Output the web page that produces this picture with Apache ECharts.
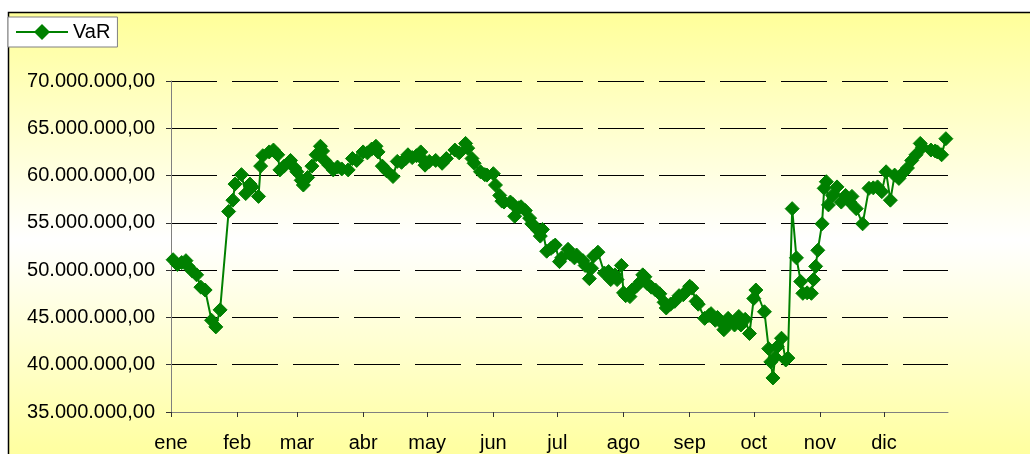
<!DOCTYPE html>
<html>
<head>
<meta charset="utf-8">
<script src="https://cdn.jsdelivr.net/npm/echarts@6/dist/echarts.min.js"></script>
<style>
  html, body { margin: 0; padding: 0; background: #ffffff; }
  #chart { width: 1030px; height: 454px; }
</style>
</head>
<body>
<div id="chart"></div>
<script>
// Day of year (0 = 1 January) of each observation
const dayOfYear = [
  1, 3, 5, 7, 8, 10, 12, 14, 16, 19, 21, 23, 27, 29, 30, 33, 35, 37, 38, 41,
  42, 43, 46, 48, 50, 51, 53, 56, 58, 59, 61, 62, 64, 66, 68, 70, 71, 72, 74, 76,
  78, 80, 83, 85, 87, 90, 92, 94, 96, 97, 99, 101, 104, 106, 108, 110, 111, 113, 115, 117,
  118, 119, 121, 124, 127, 129, 133, 135, 138, 139, 141, 142, 145, 147, 148, 151, 152, 154, 155, 156,
  159, 160, 161, 163, 164, 166, 168, 169, 171, 172, 173, 174, 176, 178, 179, 180, 182, 183, 186, 187,
  189, 190, 193, 194, 196, 197, 198, 200, 203, 205, 206, 208, 209, 211, 212, 213, 215, 216, 218, 220,
  221, 222, 223, 225, 227, 229, 231, 232, 234, 236, 238, 240, 242, 243, 244, 246, 247, 250, 252, 253,
  255, 256, 258, 259, 261, 262, 264, 266, 267, 269, 271, 273, 274, 278, 280, 281, 282, 283, 284, 286,
  288, 289, 291, 293, 295, 296, 298, 300, 301, 302, 303, 305, 306, 307, 308, 310, 312, 314, 316, 318,
  319, 321, 324, 327, 329, 331, 333, 335, 337, 339, 341, 343, 345, 347, 349, 351, 352, 356, 358, 359,
  361, 363
];
// VaR values, in millions
const varMillions = [
  51.1, 50.6, 50.8, 51.0, 50.4, 49.9, 49.5, 48.2, 47.9, 44.7, 44.0, 45.8, 56.2, 57.4, 59.1, 60.1, 58.1, 59.1, 58.8, 57.8,
  61.0, 62.1, 62.5, 62.7, 62.2, 60.6, 61.0, 61.6, 60.8, 60.4, 59.5, 59.0, 59.8, 61.0, 62.2, 63.1, 62.6, 61.6, 61.1, 60.6,
  60.9, 60.7, 60.6, 61.8, 61.6, 62.5, 62.4, 62.8, 63.1, 62.5, 61.0, 60.5, 59.9, 61.5, 61.4, 61.8, 62.2, 61.9, 62.1, 62.5,
  61.7, 61.1, 61.5, 61.6, 61.3, 61.8, 62.7, 62.4, 63.4, 62.9, 61.8, 61.3, 60.4, 60.1, 60.05, 60.2, 59.0, 57.9, 57.3, 57.2,
  57.2, 57.0, 55.7, 56.6, 56.7, 56.3, 55.5, 54.9, 54.5, 54.2, 53.6, 54.3, 52.0, 52.3, 52.5, 52.65, 50.9, 51.3, 52.2, 51.7,
  51.3, 51.6, 51.0, 50.5, 49.1, 50.2, 51.5, 51.9, 49.7, 49.85, 49.0, 49.5, 49.0, 50.5, 47.6, 47.3, 47.2, 47.9, 48.3, 48.8,
  49.5, 49.3, 48.6, 48.2, 47.9, 47.5, 46.6, 46.0, 46.4, 46.7, 47.3, 47.4, 47.9, 48.3, 48.1, 46.7, 46.4, 44.9, 45.2, 45.4,
  44.7, 45.0, 44.4, 43.7, 44.9, 44.5, 44.2, 45.1, 44.2, 44.8, 43.3, 47.0, 47.9, 45.6, 41.7, 40.3, 38.6, 40.8, 41.9, 42.8,
  40.5, 40.7, 56.5, 51.3, 48.8, 47.55, 47.6, 47.55, 49.0, 50.4, 52.1, 54.9, 58.65, 59.35, 56.9, 57.9, 58.8, 57.2, 57.9, 57.2,
  57.8, 56.5, 54.9, 58.65, 58.7, 58.8, 58.3, 60.4, 57.4, 60.05, 59.7, 60.3, 60.8, 61.6, 62.2, 63.4, 63.0, 62.7, 62.6, 62.5,
  62.2, 63.9
];
const monthLabels = ['ene', 'feb', 'mar', 'abr', 'may', 'jun', 'jul', 'ago', 'sep', 'oct', 'nov', 'dic'];
const monthStartDay = [0, 31, 59, 90, 120, 151, 181, 212, 243, 273, 304, 334];
const yTicks = [35000000, 40000000, 45000000, 50000000, 55000000, 60000000, 65000000, 70000000];
const seriesName = 'VaR';
const lastDay = 364;

const points = dayOfYear.map((d, i) => [d, varMillions[i] * 1e6]);

function fmtNum(v) {
  const s = Math.round(v).toString().replace(/\B(?=(\d{3})+(?!\d))/g, '.');
  return s + ',00';
}

const FONT = '"Liberation Sans", Arial, sans-serif';
const chart = echarts.init(document.getElementById('chart'), null, { renderer: 'canvas' });
chart.setOption({
  animation: false,
  backgroundColor: 'transparent',
  graphic: [{
    type: 'rect',
    z: -10,
    silent: true,
    shape: { x: 8.5, y: 12.5, width: 1200, height: 600 },
    style: {
      fill: new echarts.graphic.LinearGradient(0, 0, 0, 1, [
        { offset: 0, color: '#FFFF99' },
        { offset: 0.38, color: '#FFFFFF' },
        { offset: 0.76, color: '#FFFF99' },
        { offset: 1, color: '#FFFF99' }
      ]),
      stroke: '#000000',
      lineWidth: 1.5
    }
  }],
  legend: {
    left: 8,
    top: 17,
    padding: [5, 7, 5, 7],
    backgroundColor: '#ffffff',
    borderColor: '#808080',
    borderWidth: 1,
    borderRadius: 0,
    itemWidth: 52,
    itemHeight: 20,
    itemGap: 5,
    textStyle: { fontFamily: FONT, fontSize: 20, color: '#000' },
    data: [seriesName]
  },
  grid: { left: 171, top: 81, right: 82, bottom: 42, containLabel: false },
  xAxis: {
    type: 'value',
    min: 0,
    max: lastDay,
    axisLine: { show: true, onZero: false, lineStyle: { color: '#808080', width: 1 } },
    axisTick: { show: true, length: 5, inside: false, customValues: monthStartDay, lineStyle: { color: '#333' } },
    axisLabel: {
      customValues: monthStartDay,
      margin: 21,
      fontFamily: FONT,
      fontSize: 20,
      color: '#000',
      formatter: v => monthLabels[monthStartDay.indexOf(v)]
    },
    splitLine: { show: false }
  },
  yAxis: {
    type: 'value',
    min: yTicks[0],
    max: yTicks[yTicks.length - 1],
    interval: 5000000,
    axisLine: { show: true, lineStyle: { color: '#808080', width: 1 } },
    axisTick: { show: true, length: 5, inside: false, lineStyle: { color: '#333' } },
    axisLabel: {
      margin: 16,
      fontFamily: FONT,
      fontSize: 20,
      color: '#000',
      formatter: v => fmtNum(v)
    },
    splitLine: { show: true, lineStyle: { color: '#000', width: 1, type: [46, 15] } }
  },
  series: [{
    name: seriesName,
    type: 'line',
    data: points,
    symbol: 'diamond',
    symbolSize: 14,
    showAllSymbol: true,
    lineStyle: { color: '#008000', width: 2 },
    itemStyle: { color: '#008000', borderColor: '#008000' },
    emphasis: { disabled: true }
  }]
});
</script>
</body>
</html>
